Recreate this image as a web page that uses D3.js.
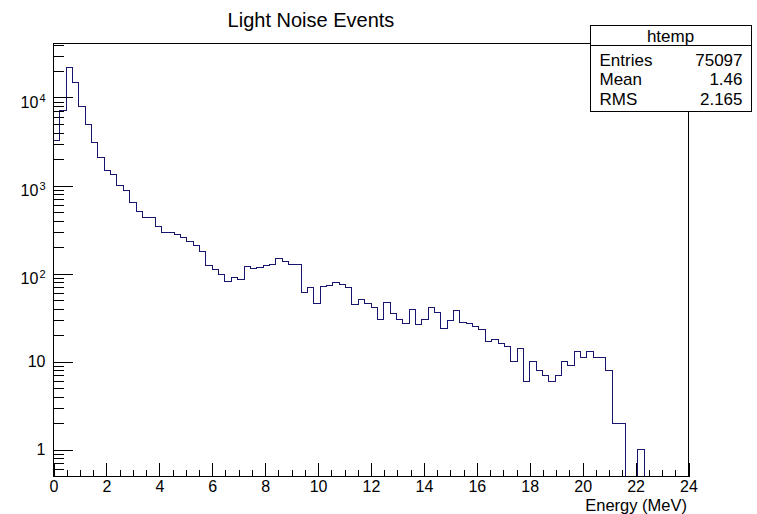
<!DOCTYPE html>
<html>
<head>
<meta charset="utf-8">
<script src="https://cdn.jsdelivr.net/npm/d3@7"></script>
<style>
    body { margin: 0; background: #fff; }
    text { font-family: "Liberation Sans", Arial, Helvetica, sans-serif; fill: #000; }
</style>
</head>
<body>
<svg id="chart" width="757" height="514"></svg>
<script>
// Histogram "htemp": 100 bins from 0 to 24 MeV, counts
const binRange = [0, 24];
const counts = [
    3270, 7170, 21900, 14700, 7960, 4970, 3100, 2065, 1493, 1344,
    1008, 871, 636, 510, 430, 430, 340, 292, 295, 277,
    254, 233, 208, 179, 123, 110, 97, 82, 91, 86,
    120, 113, 118, 123, 128, 147, 138, 128, 126, 61,
    70, 46, 71, 73, 78, 75, 70, 45, 50, 46,
    41, 30, 47, 35, 30, 27, 39, 26, 30, 41,
    36, 24, 29, 38, 28, 27, 25, 23, 17, 18,
    16, 15, 10, 14, 6, 10, 8, 7, 6, 7,
    10, 9, 13, 11, 13, 11, 11, 8, 2, 2,
    0, 0, 1, 0, 0, 0, 0, 0, 0, 0
];
const xTicks = [0, 2, 4, 6, 8, 10, 12, 14, 16, 18, 20, 22, 24];
const yTicks = [1, 10, 100, 1000, 10000];
const yRange = [0.4934, 41080];

const title = "Light Noise Events";
const xTitle = "Energy (MeV)";
const statsName = "htemp";
const statsLabels = ["Entries", "Mean", "RMS"];
const statsValues = ["75097", "1.46", "2.165"];

const svg = d3.select("#chart");
svg.append("rect").attr("width", 757).attr("height", 514).attr("fill", "#fff");

const margin = { top: 43, right: 69, bottom: 38, left: 53 },
      width = 757 - margin.left - margin.right,
      height = 514 - margin.top - margin.bottom;

const chart = svg.append("g")
    .attr("transform", `translate(${margin.left + 0.5}, ${margin.top + 0.5})`);

const x = d3.scaleLinear().domain(binRange).range([0, width]);
const y = d3.scaleLog().domain(yRange).range([height, 0]);

// histogram outline (empty bins fall to the frame bottom)
const binW = (binRange[1] - binRange[0]) / counts.length;
const pts = [[binRange[0], yRange[0]]];
counts.forEach((c, i) => pts.push([binRange[0] + i * binW, Math.max(c, yRange[0])]));
pts.push([binRange[1], Math.max(counts[counts.length - 1], yRange[0])]);
pts.push([binRange[1], yRange[0]]);

const line = d3.line()
    .x(d => Math.round(x(d[0])))
    .y(d => Math.round(y(d[1])))
    .curve(d3.curveStepAfter);

chart.append("path")
    .datum(pts)
    .attr("d", line)
    .attr("fill", "none")
    .attr("stroke", "#16166e")
    .attr("stroke-width", 1)
    .attr("shape-rendering", "crispEdges");

// x axis: minor ticks every 0.5, labelled ticks every 2
chart.append("g")
    .attr("transform", `translate(0, ${height})`)
    .call(d3.axisBottom(x).tickValues(d3.range(0, 24.01, 0.5).filter(v => v % 2 !== 0))
        .tickSize(-7).tickFormat(""))
    .call(g => g.select(".domain").remove());

chart.append("g")
    .attr("transform", `translate(0, ${height})`)
    .call(d3.axisBottom(x).tickValues(xTicks).tickSize(-14).tickPadding(4).tickFormat(d3.format("d")))
    .call(g => g.select(".domain").remove())
    .selectAll("text")
    .style("font-size", "16px");

// y axis: minor ticks 2..9 in each decade, decades labelled
chart.append("g")
    .call(d3.axisLeft(y).tickValues(y.ticks().filter(v => yTicks.indexOf(v) < 0 && v < yRange[1]))
        .tickSize(-10).tickFormat(""))
    .call(g => g.select(".domain").remove());

const yAxis = chart.append("g")
    .call(d3.axisLeft(y).tickValues(yTicks).tickSize(-19).tickPadding(8).tickFormat(""))
    .call(g => g.select(".domain").remove());

yAxis.selectAll(".tick text")
    .style("font-size", "16px")
    .each(function (d) {
        const t = d3.select(this);
        const exp = Math.round(Math.log10(d));
        if (exp < 2) {
            t.text(d);
        } else {
            t.attr("dy", "0.62em").text("10");
            t.append("tspan").attr("dy", "-0.55em").attr("dx", "1").style("font-size", "11px").text(exp);
        }
    });

chart.selectAll(".tick line").attr("stroke", "#000").attr("shape-rendering", "crispEdges");

// frame
chart.append("rect")
    .attr("width", width).attr("height", height)
    .attr("fill", "none").attr("stroke", "#000").attr("shape-rendering", "crispEdges");

// titles
svg.append("text")
    .attr("x", 311).attr("y", 27)
    .attr("text-anchor", "middle")
    .style("font-size", "20px")
    .text(title);

svg.append("text")
    .attr("x", margin.left + width - 1).attr("y", 510.5)
    .attr("text-anchor", "end")
    .style("font-size", "16.5px")
    .text(xTitle);

// stats box
const stats = svg.append("g").attr("transform", "translate(590.5, 25.5)");
stats.append("rect")
    .attr("width", 161).attr("height", 86)
    .attr("fill", "#fff").attr("stroke", "#000").attr("shape-rendering", "crispEdges");
stats.append("line")
    .attr("x1", 0).attr("x2", 161).attr("y1", 20).attr("y2", 20)
    .attr("stroke", "#000").attr("shape-rendering", "crispEdges");
stats.append("text")
    .attr("x", 80).attr("y", 16)
    .attr("text-anchor", "middle")
    .style("font-size", "17px")
    .text(statsName);

statsLabels.forEach((lab, i) => {
    stats.append("text")
        .attr("x", 9).attr("y", 40 + i * 19.5)
        .style("font-size", "17px")
        .text(lab);
    stats.append("text")
        .attr("x", 152).attr("y", 40 + i * 19.5)
        .attr("text-anchor", "end")
        .style("font-size", "17px")
        .text(statsValues[i]);
});
</script>
</body>
</html>
